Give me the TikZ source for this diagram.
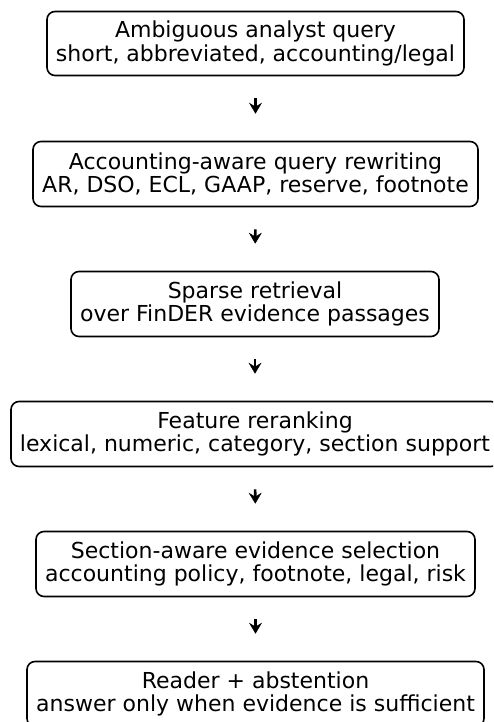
\documentclass[tikz,border=0pt]{standalone}
\usepackage{fontspec}
\setmainfont{DejaVu Sans}
\usetikzlibrary{arrows.meta}
\begin{document}
\begin{tikzpicture}[x=1pt,y=-1pt,
  box/.style={draw=black, line width=1.6pt, rounded corners=8pt, align=center,
    font=\fontsize{22}{23.5}\selectfont, inner sep=0pt, fill=white},
  arr/.style={draw=black, line width=2.6pt,
    -{Stealth[length=11pt,width=13pt,inset=4pt,line width=0.5pt]},
    shorten <=22pt, shorten >=27pt}]
\useasboundingbox (0,0) rectangle (493,722);
\clip (0,0) rectangle (493,722);
\node[box, minimum width=417pt, minimum height=64pt] (b1) at (255.5,43.5)
  {Ambiguous analyst query\\short, abbreviated, accounting/legal};
\node[box, minimum width=445pt, minimum height=65pt] (b2) at (255.5,174)
  {Accounting-aware query rewriting\\AR, DSO, ECL, GAAP, reserve, footnote};
\node[box, minimum width=368pt, minimum height=65pt] (b3) at (255,304)
  {Sparse retrieval\\over FinDER evidence passages};
\node[box, minimum width=488pt, minimum height=65pt] (b4) at (255,434)
  {Feature reranking\\lexical, numeric, category, section support};
\node[box, minimum width=439pt, minimum height=65pt] (b5) at (255.5,564)
  {Section-aware evidence selection\\accounting policy, footnote, legal, risk};
\node[box, minimum width=457pt, minimum height=65pt] (b6) at (255.5,694)
  {Reader + abstention\\answer only when evidence is sufficient};
\draw[arr] (b1.south) -- (b2.north);
\draw[arr] (b2.south) -- (b3.north);
\draw[arr] (b3.south) -- (b4.north);
\draw[arr] (b4.south) -- (b5.north);
\draw[arr] (b5.south) -- (b6.north);
\end{tikzpicture}
\end{document}
